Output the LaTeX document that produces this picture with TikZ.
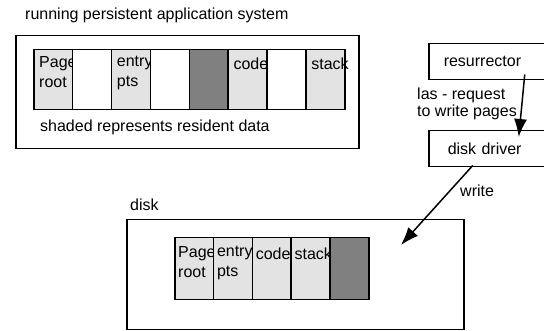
\documentclass[tikz,border=0pt]{standalone}
\usepackage{fontspec}
\setmainfont{Liberation Sans}
\usetikzlibrary{arrows.meta}
\definecolor{lite}{gray}{0.89}
\definecolor{dark}{gray}{0.5}

\begin{document}
\begin{tikzpicture}[x=1pt,y=-1pt,
  font=\fontsize{16}{20}\selectfont,
  box/.style={draw,line width=1.5pt,anchor=north west,inner sep=0pt},
  cell/.style={box,minimum width=38.9pt,minimum height=60pt},
  txt/.style={anchor=base west,inner sep=0pt,align=left},
  celltxt/.style={txt,anchor=north west,execute at begin node={\rule{0pt}{13pt}}},
  proc/.style={box,minimum height=36pt,text width=110pt,inner xsep=15pt,align=left},
  arr/.style={line width=1.5pt,-{Latex[length=18pt,width=13pt]}}]
\useasboundingbox (0,0) rectangle (544,331);
\node[txt] (title) at (25,20) {running persistent application system};
\node[box,minimum width=343pt,minimum height=113pt] (app) at (15,35) {};
\foreach \col/\lbl [count=\i from 0] in {lite/Page\\root,white/{},lite/entry\\pts,white/{},dark/{},lite/code,white/{},lite/stack}{
  \node[cell,fill=\col] (m\i) at (33+\i*38.875,49) {};
  \node[celltxt] (mt\i) at ([shift={(6,7)}]m\i.north west) {\lbl};
}
\node[txt] (shade) at (40,132) {shaded represents resident data};
\node[proc] (res) at (428,43) {resurrector};
\node[proc,inner xsep=19pt,text width=102pt] (drv) at (428,130) {disk driver};
\node[txt,font=\fontsize{16}{17}\selectfont] (req) at (417,117) {las - request\\to write pages};
\node[txt] (wr) at (460,197) {write};
\node[txt] (disklbl) at (130,211) {disk};
\node[box,minimum width=337pt,minimum height=110pt] (disk) at (126,219) {};
\foreach \col/\lbl [count=\i from 0] in {lite/Page\\root,lite/entry\\pts,lite/code,lite/stack,dark/{}}{
  \node[cell,fill=\col,minimum width=38.8pt,minimum height=62pt] (d\i) at (174+\i*38.8,237) {};
  \node[celltxt] (dt\i) at ([shift={(4,9)}]d\i.north west) {\lbl};
}
\coordinate (tip) at (401,245);
\draw[arr] ([xshift=26pt,yshift=6pt]res.south) -- ([xshift=20pt,yshift=-7pt]drv.north);
\draw[arr] ([xshift=-26pt,yshift=2pt]drv.south) -- (tip);
\end{tikzpicture}
\end{document}
